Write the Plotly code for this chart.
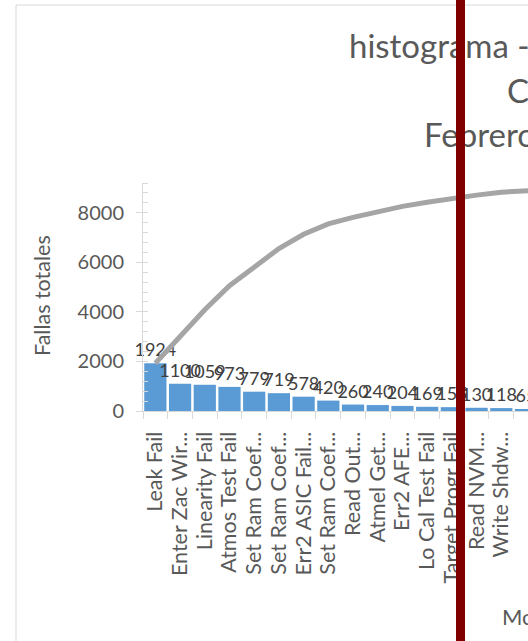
import numpy as np
import plotly.graph_objects as go

# Failure modes (sorted by count) and their totals
modos = ["Leak Fail", "Enter Zac Wir...", "Linearity Fail", "Atmos Test Fail",
         "Set Ram Coef...", "Set Ram Coef...", "Err2 ASIC Fail...", "Set Ram Coef...",
         "Read Out...", "Atmel Get...", "Err2 AFE...", "Lo Cal Test Fail",
         "Target Progr Fail", "Read NVM...", "Write Shdw...", "Read Reg...", "Write Ram..."]
fallas = [1924, 1100, 1059, 973, 779, 719, 578, 420, 260, 240, 204, 169, 155, 130, 118, 65, 52]
y_ticks = [0, 2000, 4000, 6000, 8000]

titulo = ["histograma - Modos de falla", "Celda de prueba", "Febrero 2017"]
titulo_eje_x = "Modos de falla"
titulo_eje_y = "Fallas totales"

acumulado = np.cumsum(fallas)
idx = list(range(len(modos)))

W, H = 528, 641
L, R, T, B = 143, 528, 183, 411          # plot area in pixels
FONT = "Lato, Carlito, Calibri, sans-serif"
GRIS = "#595959"


def px(x):
    return (x - L) / (R - L)


def py(y):
    return (B - y) / (B - T)


fig = go.Figure()
fig.add_trace(go.Bar(
    x=idx, y=fallas, marker=dict(color="#5B9BD5", line=dict(width=0)),
    text=[str(v) for v in fallas], textposition="outside", constraintext="none",
    textfont=dict(family=FONT, size=18, color="#404040"),
    cliponaxis=False, hoverinfo="skip",
))
fig.add_trace(go.Scatter(
    x=idx, y=acumulado, mode="lines",
    line=dict(color="#A5A5A5", width=5), hoverinfo="skip",
))

annotations = [
    dict(text=titulo[0], x=px(347), y=py(45), xanchor="left", yanchor="middle"),
    dict(text=titulo[1], x=px(505), y=py(90), xanchor="left", yanchor="middle"),
    dict(text=titulo[2], x=px(422), y=py(134), xanchor="left", yanchor="middle"),
]
for a in annotations:
    a.update(xref="paper", yref="paper", showarrow=False,
             font=dict(family=FONT, size=33, color=GRIS))

annotations.append(dict(text=titulo_eje_y, x=px(42), y=py(296), xref="paper", yref="paper",
                        textangle=-90, showarrow=False, xanchor="center", yanchor="middle",
                        font=dict(family=FONT, size=21.5, color=GRIS)))
annotations.append(dict(text=titulo_eje_x, x=px(500), y=py(616), xref="paper", yref="paper",
                        showarrow=False, xanchor="left", yanchor="middle",
                        font=dict(family=FONT, size=22, color=GRIS)))
# dark red marker bar drawn on top of everything
annotations.append(dict(text=" ", x=px(456), y=py(0), xref="paper", yref="paper",
                        xanchor="left", yanchor="top", width=9, height=H,
                        bgcolor="#800000", borderpad=0, borderwidth=0, showarrow=False,
                        font=dict(size=4)))

fig.update_layout(
    width=W, height=H,
    margin=dict(l=L, r=W - R, t=T, b=H - B, pad=0),
    paper_bgcolor="white", plot_bgcolor="white",
    showlegend=False, bargap=0.1,
    annotations=annotations,
    shapes=[dict(type="rect", xref="paper", yref="paper",
                 x0=px(16), x1=px(W + 20), y0=py(H + 20), y1=py(5),
                 line=dict(color="#D9D9D9", width=1), fillcolor="rgba(0,0,0,0)",
                 layer="below")],
    xaxis=dict(
        range=[-0.5, 15.08], tickvals=idx, ticktext=modos, tickangle=-90,
        ticks="", showline=True, linecolor="#D9D9D9", linewidth=1,
        showgrid=False, zeroline=False, ticklabelstandoff=11,
        tickfont=dict(family=FONT, size=21.5, color=GRIS),
        minor=dict(ticks="outside", tick0=-0.5, dtick=1, ticklen=7,
                   tickcolor="#D9D9D9", showgrid=False),
    ),
    yaxis=dict(
        range=[0, 9200], tickvals=y_ticks, ticks="outside", ticklen=6,
        tickcolor="#D9D9D9", showline=True, linecolor="#D9D9D9", linewidth=1,
        showgrid=False, zeroline=False, ticklabelstandoff=8,
        tickfont=dict(family=FONT, size=20, color=GRIS),
        minor=dict(ticks="inside", dtick=400, ticklen=5, tickcolor="#D9D9D9",
                   showgrid=False),
    ),
)

fig.write_html("out.html")
